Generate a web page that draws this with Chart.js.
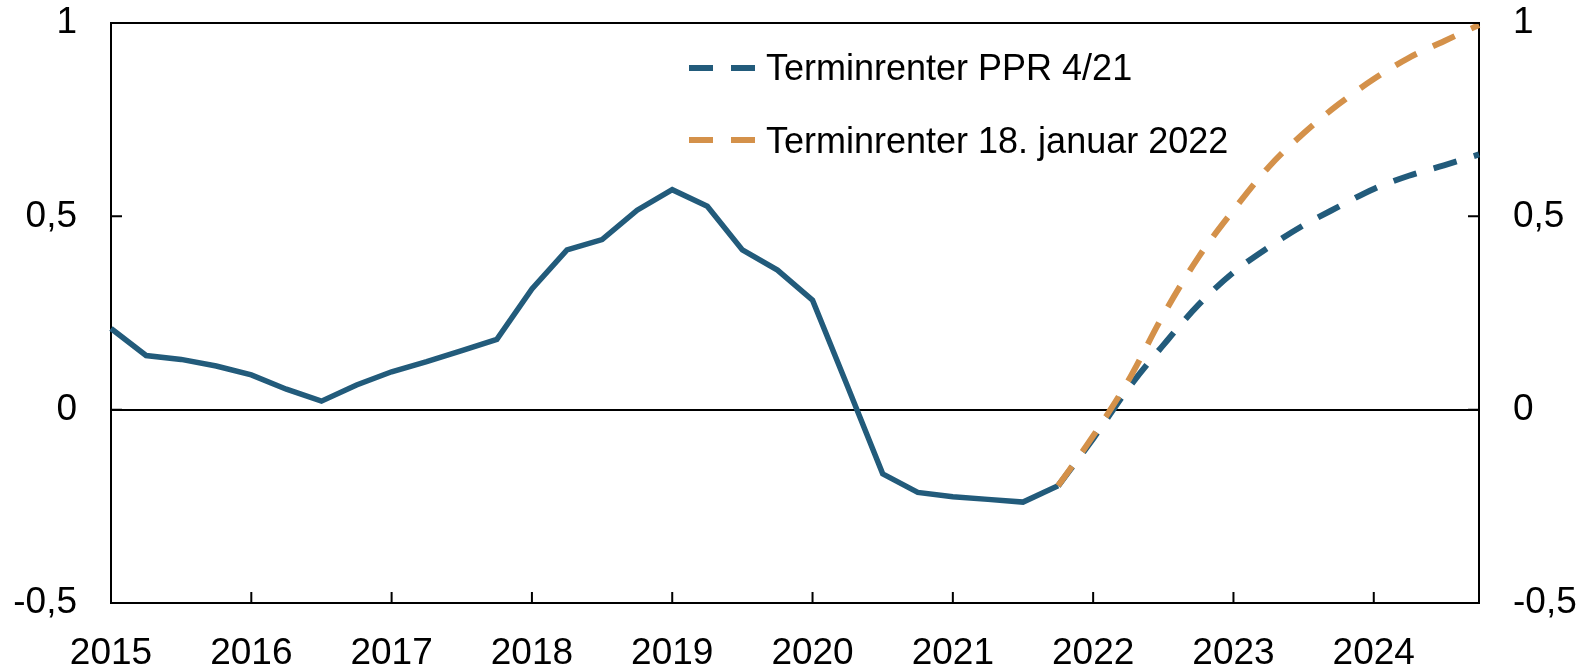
<!DOCTYPE html>
<html lang="no">
<head>
<meta charset="utf-8">
<script src="https://cdn.jsdelivr.net/npm/chart.js@4/dist/chart.umd.min.js"></script>
<style>
    body { margin: 0; background: #fff; }
    #wrap { position: relative; width: 1585px; height: 664px; }
    .sample { position: absolute; height: 6px; width: 66px; }
    .tekst { position: absolute; font-family: Arial, "Liberation Sans", sans-serif; font-size: 36px; line-height: 36px; color: #000; white-space: nowrap; }
</style>
</head>
<body>
<div id="wrap">
    <canvas id="renteChart" width="1585" height="664"></canvas>
    <div class="sample" id="sample1" style="left:689px; top:65px;"></div>
    <div class="tekst" style="left:766px; top:50px;">Terminrenter PPR 4/21</div>
    <div class="sample" id="sample2" style="left:689px; top:137px;"></div>
    <div class="tekst" style="left:766px; top:123px;">Terminrenter 18. januar 2022</div>
</div>
<script>
const aar = [2015, 2016, 2017, 2018, 2019, 2020, 2021, 2022, 2023, 2024];
const yTikker = [-0.5, 0, 0.5, 1];

// kvartalsverdier, 2015K1 - 2021K4
const historikk = [0.21, 0.14, 0.13, 0.113, 0.09, 0.053, 0.022, 0.064,
    0.098, 0.124, 0.153, 0.182, 0.312, 0.413, 0.44, 0.516,
    0.569, 0.526, 0.413, 0.361, 0.283, 0.06, -0.166, -0.214,
    -0.225, -0.232, -0.239, -0.197];
// 2021K4 - 2024K4
const ppr421 = [-0.197, -0.075, 0.055, 0.167, 0.271, 0.355, 0.42, 0.477, 0.525, 0.571, 0.605, 0.632, 0.66];
const januar22 = [-0.197, -0.068, 0.075, 0.245, 0.394, 0.516, 0.627, 0.715, 0.79, 0.855, 0.91, 0.953, 0.995];

const blaa = '#225b7b';
const oransje = '#d4914a';
const font = 'Arial, "Liberation Sans", sans-serif';

const kvartaler = [];
aar.forEach(a => { for (let k = 1; k <= 4; k++) kvartaler.push(a + 'K' + k); });

const start = historikk.length - 1;
const fyll = (verdier) => kvartaler.map((_, i) => (i >= start && i - start < verdier.length) ? verdier[i - start] : null);
const histData = kvartaler.map((_, i) => i < historikk.length ? historikk[i] : null);

function dashBg(farge) {
    return `linear-gradient(to right, ${farge} 0 24px, transparent 24px 42px, ${farge} 42px 66px)`;
}
document.getElementById('sample1').style.background = dashBg(blaa);
document.getElementById('sample2').style.background = dashBg(oransje);

const innoverTikker = {
    id: 'innoverTikker',
    afterDraw(chart) {
        const ctx = chart.ctx;
        const area = chart.chartArea;
        ctx.save();
        ctx.strokeStyle = '#000';
        ctx.lineWidth = 2;
        ctx.beginPath();
        yTikker.forEach(v => {
            const py = chart.scales.y.getPixelForValue(v);
            ctx.moveTo(area.left, py); ctx.lineTo(area.left + 11, py);
            ctx.moveTo(area.right, py); ctx.lineTo(area.right - 11, py);
        });
        kvartaler.forEach((k, i) => {
            if (i % 4 !== 0) return;
            const px = chart.scales.x.getPixelForValue(i);
            ctx.moveTo(px, area.bottom); ctx.lineTo(px, area.bottom - 11);
        });
        ctx.stroke();
        ctx.restore();
    }
};

const tickFormat = v => String(v).replace('.', ',');

// y-aksene: fast bredde, og ikke la tick-padding skyve plottet ned
const fastY = (bredde) => s => { s.width = bredde; s.paddingTop = 20; s.paddingBottom = 20; };

new Chart(document.getElementById('renteChart').getContext('2d'), {
    type: 'line',
    data: {
        labels: kvartaler,
        datasets: [
            {
                label: 'Terminrenter 18. januar 2022',
                data: fyll(januar22),
                borderColor: oransje,
                borderWidth: 6,
                borderDash: [24, 18],
                cubicInterpolationMode: 'monotone',
                pointRadius: 0
            },
            {
                label: 'Terminrenter PPR 4/21',
                data: fyll(ppr421),
                borderColor: blaa,
                borderWidth: 6,
                borderDash: [24, 18],
                cubicInterpolationMode: 'monotone',
                pointRadius: 0
            },
            {
                label: 'Historikk',
                data: histData,
                borderColor: blaa,
                borderWidth: 5.5,
                pointRadius: 0,
                tension: 0
            }
        ]
    },
    options: {
        responsive: false,
        animation: false,
        layout: { padding: 0 },
        plugins: {
            legend: { display: false },
            tooltip: { enabled: false }
        },
        scales: {
            x: {
                position: 'bottom',
                grid: { display: false, drawTicks: false },
                border: { display: true, color: '#000', width: 2 },
                ticks: {
                    autoSkip: false,
                    maxRotation: 0,
                    padding: 29,
                    color: '#000',
                    font: { family: font, size: 37 },
                    callback: (v, i) => i % 4 === 0 ? kvartaler[i].slice(0, 4) : ''
                },
                afterFit: s => { s.height = 61; }
            },
            xTop: {
                position: 'top',
                grid: { display: false, drawTicks: false },
                border: { display: true, color: '#000', width: 2 },
                ticks: { display: false },
                afterFit: s => { s.height = 23; }
            },
            y: {
                position: 'left',
                min: -0.5,
                max: 1,
                grid: {
                    drawTicks: false,
                    lineWidth: 2,
                    color: c => c.tick.value === 0 ? '#000' : 'rgba(0,0,0,0)'
                },
                border: { display: true, color: '#000', width: 2 },
                ticks: {
                    stepSize: 0.5,
                    padding: 34,
                    color: '#000',
                    font: { family: font, size: 37 },
                    callback: tickFormat
                },
                afterFit: fastY(111)
            },
            y2: {
                position: 'right',
                min: -0.5,
                max: 1,
                grid: { display: false, drawTicks: false },
                border: { display: true, color: '#000', width: 2 },
                ticks: {
                    stepSize: 0.5,
                    padding: 34,
                    color: '#000',
                    font: { family: font, size: 37 },
                    callback: tickFormat
                },
                afterFit: fastY(106)
            }
        }
    },
    plugins: [innoverTikker]
});
</script>
</body>
</html>
